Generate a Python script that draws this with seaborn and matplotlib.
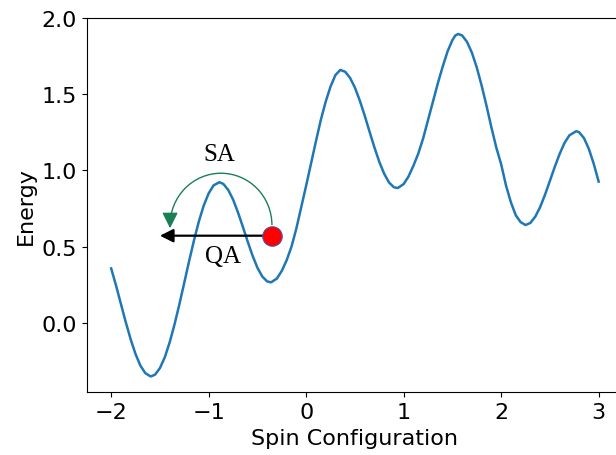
import pandas as pd
import matplotlib.pyplot as plt
import numpy as np
import seaborn as sns
from matplotlib.patches import Arc

# energy landscape
spin = [-2.0, -1.95, -1.9, -1.85, -1.8, -1.75, -1.7, -1.65, -1.6, -1.59,
        -1.55, -1.5, -1.45, -1.4, -1.35, -1.3, -1.25, -1.2, -1.15, -1.1,
        -1.05, -1.0, -0.95, -0.89, -0.85, -0.8, -0.75, -0.7, -0.65, -0.6,
        -0.55, -0.5, -0.45, -0.4, -0.36, -0.3, -0.25, -0.2, -0.15, -0.1,
        -0.05, 0.0, 0.05, 0.1, 0.15, 0.2, 0.25, 0.3, 0.35, 0.4,
        0.45, 0.5, 0.55, 0.6, 0.65, 0.7, 0.75, 0.8, 0.85, 0.9,
        0.94, 1.0, 1.05, 1.1, 1.15, 1.2, 1.25, 1.3, 1.35, 1.4,
        1.45, 1.5, 1.53, 1.56, 1.6, 1.65, 1.7, 1.75, 1.8, 1.85,
        1.9, 1.95, 2.0, 2.05, 2.1, 2.15, 2.2, 2.25, 2.3, 2.35,
        2.4, 2.45, 2.5, 2.55, 2.6, 2.65, 2.7, 2.77, 2.8, 2.85,
        2.9, 2.95, 3.0]
energy = [0.356, 0.244, 0.123, 0.003, -0.109, -0.206, -0.282, -0.331, -0.351, -0.352,
          -0.341, -0.298, -0.227, -0.129, -0.011, 0.122, 0.263, 0.406, 0.542, 0.666,
          0.770, 0.849, 0.901, 0.922, 0.911, 0.872, 0.809, 0.725, 0.631, 0.533,
          0.440, 0.361, 0.303, 0.271, 0.265, 0.29, 0.34, 0.41, 0.50, 0.62,
          0.76, 0.90, 1.045, 1.19, 1.33, 1.45, 1.55, 1.625, 1.659, 1.647,
          1.607, 1.543, 1.458, 1.360, 1.254, 1.151, 1.056, 0.978, 0.920, 0.889,
          0.884, 0.91, 0.96, 1.03, 1.11, 1.21, 1.33, 1.45, 1.57, 1.68,
          1.78, 1.855, 1.885, 1.895, 1.885, 1.843, 1.772, 1.675, 1.556, 1.423,
          1.282, 1.150, 1.04, 0.90, 0.79, 0.705, 0.66, 0.641, 0.655, 0.696,
          0.759, 0.840, 0.931, 1.023, 1.108, 1.180, 1.230, 1.257, 1.25, 1.211,
          1.14, 1.042, 0.926]

# current state and where the two methods go
state = (-0.351, 0.571)
qa_target = (-1.50, 0.571)
sa_start = (-0.351, 0.64)
sa_target = (-1.396, 0.62)
sa_top = 0.981
sa_label = (-0.886, 1.108)
qa_label = (-0.858, 0.44)
sa_color = "#1a7f55"

veri = pd.DataFrame({"spin": spin, "energy": energy})

fig = plt.figure(figsize=(6.16, 4.56), dpi=100)
ax = fig.add_axes([0.1409, 0.1371, 0.8705, 0.8213])

sns.lineplot(x="spin", y="energy", data=veri, ax=ax, color="C0", linewidth=1.8)

# QA: straight tunnel through the barrier
ax.annotate("", xy=qa_target, xytext=state,
            arrowprops=dict(arrowstyle="-|>", color="black", lw=1.6,
                            mutation_scale=20, shrinkA=0, shrinkB=0))

# SA: hop over the barrier (half ellipse + arrow head)
cx = (sa_start[0] + sa_target[0]) / 2
arc_w = sa_start[0] - sa_target[0]
arc_h = 2 * (sa_top - sa_start[1])
ax.add_patch(Arc((cx, sa_start[1]), arc_w, arc_h, theta1=0, theta2=180,
                 color=sa_color, lw=1.0))
ax.annotate("", xy=sa_target, xytext=(sa_target[0], sa_start[1] + 0.06),
            arrowprops=dict(arrowstyle="-|>", color=sa_color, lw=1.0,
                            mutation_scale=24, shrinkA=0, shrinkB=0))

ax.plot(state[0], state[1], "o", color="red", markersize=14,
        markeredgecolor="#5a4aa0", markeredgewidth=0.8, zorder=5)

ax.text(sa_label[0], sa_label[1], "SA", fontsize=18, family="Liberation Serif",
        ha="center", va="center")
ax.text(qa_label[0], qa_label[1], "QA", fontsize=18, family="Liberation Serif",
        ha="center", va="center")

ax.set_xlim(-2.25, 3.25)
ax.set_ylim(-0.458, 2.0)
ax.set_xticks([-2, -1, 0, 1, 2, 3])
ax.set_yticks([0.0, 0.5, 1.0, 1.5, 2.0])
ax.tick_params(labelsize=16)
ax.set_xlabel("Spin Configuration", fontsize=16)
ax.set_ylabel("Energy", fontsize=16)

fig.savefig("out.png", dpi=100)
